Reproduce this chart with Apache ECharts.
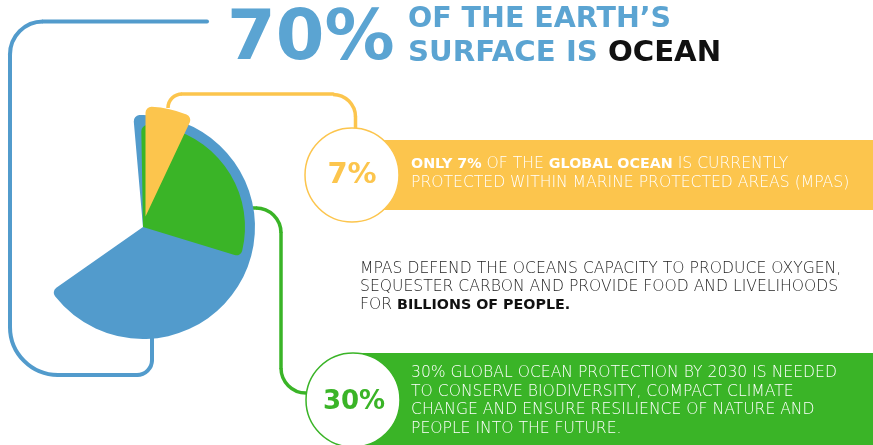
<!DOCTYPE html>
<html>
<head>
<meta charset="utf-8">
<script src="https://cdn.jsdelivr.net/npm/echarts@6.0.0/dist/echarts.min.js"></script>
<style>
html,body{margin:0;padding:0;background:#fff;}
#chart{width:873px;height:445px;}
</style>
</head>
<body>
<div id="chart"></div>
<script>
// ---- data ----
const sliceNames = ['Ocean (share of Earth surface)', 'Ocean protection target by 2030', 'Ocean currently protected (MPAs)'];
const sliceValues = [70, 30, 7];
const titleBig = '70%';
const titleLine1 = "OF THE EARTH\u2019S";
const titleLine2a = 'SURFACE IS ';
const titleLine2b = 'OCEAN';
const badgeYellow = '7%';
const badgeGreen = '30%';
const yellowLines = [
  '{b|ONLY 7%}{n| OF THE }{b|GLOBAL OCEAN}{n| IS CURRENTLY}',
  '{n|PROTECTED WITHIN MARINE PROTECTED AREAS (MPAS)}'
];
const middleLines = [
  '{n|MPAS DEFEND THE OCEANS CAPACITY TO PRODUCE OXYGEN,}',
  '{n|SEQUESTER CARBON AND PROVIDE FOOD AND LIVELIHOODS}',
  '{n|FOR }{b|BILLIONS OF PEOPLE.}'
];
const greenLines = [
  '30% GLOBAL OCEAN PROTECTION BY 2030 IS NEEDED',
  'TO CONSERVE BIODIVERSITY, COMPACT CLIMATE',
  'CHANGE AND ENSURE RESILIENCE OF NATURE AND',
  'PEOPLE INTO THE FUTURE.'
];

// ---- styles ----
const BLUE = '#529bcc', BLUE_T = '#5ba4d2', GREEN = '#3ab427', YELLOW = '#fcc54d';
const LIGHT = 'DejaVu Sans', BOLD = 'DejaVu Sans';
const PI = Math.PI;
const LS = 15.6; // light text size
const BS = 14.3; // bold text size

function line(x1, y1, x2, y2, color, w) {
  return {type: 'line', z: 1, shape: {x1, y1, x2, y2}, style: {stroke: color, lineWidth: w, lineCap: 'round'}};
}
function arc(cx, cy, r, a0, a1, cw, color, w) {
  return {type: 'arc', z: 1, shape: {cx, cy, r, startAngle: a0, endAngle: a1, clockwise: cw}, style: {stroke: color, lineWidth: w, fill: null}};
}
function txt(x, y, text, rich) {
  return {type: 'text', z: 20, x: x, y: y, style: {text: text, rich: rich, verticalAlign: 'middle', align: 'left'}};
}

const elements = [];
// blue connector
const bw = 4;
elements.push(line(207, 21.5, 43, 21.5, BLUE, bw));
elements.push(arc(43, 54.5, 33, 1.5 * PI, PI, false, BLUE, bw));
elements.push(line(10, 54.5, 10, 327, BLUE, bw));
elements.push(arc(58, 327, 48, PI, 0.5 * PI, false, BLUE, bw));
elements.push(line(58, 375, 137, 375, BLUE, bw));
elements.push(arc(137, 360, 15, 0.5 * PI, 0, false, BLUE, bw));
elements.push(line(152, 360, 152, 334, BLUE, bw));
// yellow connector
const yw = 3.5;
elements.push(arc(182, 108, 14, PI, 1.5 * PI, true, YELLOW, yw));
elements.push(line(182, 94, 333, 94, YELLOW, yw));
elements.push(arc(333, 117, 22.5, 1.5 * PI, 2 * PI, true, YELLOW, yw));
elements.push(line(355.5, 117, 355.5, 130, YELLOW, yw));
// green connector
const gw = 3.5;
elements.push(line(240, 208, 256, 208, GREEN, gw));
elements.push(arc(256, 233, 25, 1.5 * PI, 2 * PI, true, GREEN, gw));
elements.push(line(281, 233, 281, 368, GREEN, gw));
elements.push(arc(306, 368, 25, PI, 0.5 * PI, false, GREEN, gw));

// bands
elements.push({type: 'rect', z: 5, shape: {x: 352, y: 140, width: 521, height: 70}, style: {fill: YELLOW}});
elements.push({type: 'rect', z: 5, shape: {x: 353, y: 353, width: 520, height: 92}, style: {fill: GREEN}});
// badges
elements.push({type: 'circle', z: 10, shape: {cx: 352, cy: 175, r: 47}, style: {fill: '#fff', stroke: YELLOW, lineWidth: 1.5}});
elements.push({type: 'circle', z: 10, shape: {cx: 353, cy: 400, r: 47}, style: {fill: '#fff', stroke: GREEN, lineWidth: 1.5}});
elements.push({type: 'text', z: 20, x: 352, y: 175, style: {text: badgeYellow, fill: YELLOW, font: 'bold 29px "DejaVu Sans"', align: 'center', verticalAlign: 'middle'}});
elements.push({type: 'text', z: 20, x: 354, y: 402, style: {text: badgeGreen, fill: GREEN, font: 'bold 26px "DejaVu Sans"', align: 'center', verticalAlign: 'middle'}});

// title
elements.push({type: 'text', z: 20, x: 227, y: 41, style: {text: titleBig, fill: BLUE_T, font: 'bold 70px "DejaVu Sans"', align: 'left', verticalAlign: 'middle'}});
elements.push({type: 'text', z: 20, x: 408, y: 20, style: {text: titleLine1, fill: BLUE_T, font: 'bold 28.5px "DejaVu Sans"', align: 'left', verticalAlign: 'middle'}});
elements.push(txt(408, 53, '{a|' + titleLine2a + '}{b|' + titleLine2b + '}', {
  a: {fill: BLUE_T, fontFamily: BOLD, fontWeight: 'bold', fontSize: 29.2},
  b: {fill: '#111', fontFamily: BOLD, fontWeight: 'bold', fontSize: 29.2}
}));

// yellow band text
const richW = {
  n: {fill: '#fff', fontFamily: LIGHT, fontWeight: 200, fontSize: LS},
  b: {fill: '#fff', fontFamily: BOLD, fontWeight: 'bold', fontSize: BS}
};
const yY = [164, 182.5];
yellowLines.forEach((s, i) => elements.push(txt(411, yY[i], s, richW)));
// middle text
const richM = {
  n: {fill: '#1e1e1e', fontFamily: LIGHT, fontWeight: 200, fontSize: LS},
  b: {fill: '#111', fontFamily: BOLD, fontWeight: 'bold', fontSize: BS}
};
const mY = [269, 287, 305];
middleLines.forEach((s, i) => elements.push(txt(360, mY[i], s, richM)));
// green band text
const gY = [373, 391.5, 410, 428.5];
greenLines.forEach((s, i) => elements.push(txt(411, gY[i], '{n|' + s + '}', richW)));

// ---- pie ----
const pieCenter = [143, 227];
const common = {type: 'pie', silent: true, animation: false, label: {show: false}, labelLine: {show: false}, emphasis: {disabled: true}};
const series = [
  Object.assign({}, common, {
    name: sliceNames[0], z: 2, center: pieCenter, radius: [0, 112], startAngle: 95, endAngle: -145,
    itemStyle: {borderRadius: 6},
    data: [{name: sliceNames[0], value: sliceValues[0], itemStyle: {color: BLUE}}]
  }),
  Object.assign({}, common, {
    name: sliceNames[1], z: 3, center: pieCenter, radius: [0, 102], startAngle: 91,
    itemStyle: {borderRadius: 6},
    data: [
      {name: sliceNames[1], value: sliceValues[1], itemStyle: {color: GREEN}},
      {name: 'rest', value: 100 - sliceValues[1], itemStyle: {color: 'rgba(0,0,0,0)'}}
    ]
  }),
  Object.assign({}, common, {
    name: sliceNames[2], z: 4, center: [145.5, 216.5], radius: [0, 110], startAngle: 90,
    itemStyle: {borderRadius: 6},
    data: [
      {name: sliceNames[2], value: sliceValues[2], itemStyle: {color: YELLOW}},
      {name: 'rest', value: 100 - sliceValues[2], itemStyle: {color: 'rgba(0,0,0,0)'}}
    ]
  })
];

const chart = echarts.init(document.getElementById('chart'), null, {renderer: 'canvas'});
chart.setOption({
  backgroundColor: '#fff',
  animation: false,
  graphic: {elements: elements},
  series: series
});
</script>
</body>
</html>
